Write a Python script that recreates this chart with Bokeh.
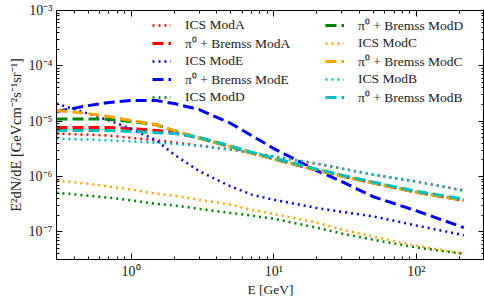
from bokeh.plotting import figure
from bokeh.models import (LogAxis, Legend, LegendItem, CustomJSTickFormatter,
                          Range1d, LogTicker)
from bokeh.embed import file_html
from bokeh.resources import INLINE

# ---- data ----
energy = [0.3, 0.5, 0.7, 1, 1.5, 2, 3, 5, 7, 10, 20, 30, 50, 100, 215]

ics_modA = [6.0e-6, 5.7e-6, 5.5e-6, 5.0e-6, 4.5e-6, 4.1e-6, 3.6e-6, 3.06e-6, 2.7e-6, 2.3e-6, 1.71e-6, 1.39e-6, 1.08e-6, 8.1e-7, 5.6e-7]
pi_modA = [7.7e-6, 7.7e-6, 7.7e-6, 7.3e-6, 6.8e-6, 6.2e-6, 5.0e-6, 3.45e-6, 2.65e-6, 2.08e-6, 1.31e-6, 1.02e-6, 7.6e-7, 5.2e-7, 3.7e-7]
ics_modE = [2.08e-5, 1.37e-5, 1.03e-5, 7.3e-6, 4.5e-6, 2.5e-6, 1.25e-6, 6.6e-7, 4.7e-7, 3.8e-7, 2.7e-7, 2.3e-7, 1.9e-7, 1.3e-7, 8.7e-8]
pi_modE = [1.49e-5, 1.91e-5, 2.17e-5, 2.36e-5, 2.36e-5, 2.08e-5, 1.62e-5, 9.1e-6, 5.5e-6, 3.2e-6, 1.28e-6, 8.1e-7, 4.3e-7, 2.4e-7, 1.19e-7]
ics_modD = [5.1e-7, 4.5e-7, 4.15e-7, 3.7e-7, 3.2e-7, 3.0e-7, 2.6e-7, 2.2e-7, 1.96e-7, 1.73e-7, 1.19e-7, 9.3e-8, 7.2e-8, 5.2e-8, 4.0e-8]
pi_modD = [1.1e-5, 1.1e-5, 1.08e-5, 9.9e-6, 8.6e-6, 6.7e-6, 4.95e-6, 3.45e-6, 2.67e-6, 2.08e-6, 1.32e-6, 1.03e-6, 7.7e-7, 5.25e-7, 3.75e-7]
ics_modC = [8.4e-7, 7.4e-7, 6.6e-7, 5.8e-7, 4.9e-7, 4.5e-7, 3.8e-7, 3.1e-7, 2.5e-7, 2.1e-7, 1.47e-7, 1.1e-7, 8.2e-8, 5.6e-8, 4.0e-8]
pi_modC = [1.56e-5, 1.37e-5, 1.21e-5, 1.03e-5, 8.7e-6, 6.8e-6, 5.0e-6, 3.45e-6, 2.66e-6, 2.08e-6, 1.31e-6, 1.02e-6, 7.6e-7, 5.2e-7, 3.7e-7]
ics_modB = [4.8e-6, 4.65e-6, 4.5e-6, 4.3e-6, 4.1e-6, 3.9e-6, 3.6e-6, 3.06e-6, 2.7e-6, 2.3e-6, 1.71e-6, 1.39e-6, 1.08e-6, 8.1e-7, 5.5e-7]
pi_modB = [6.8e-6, 6.8e-6, 6.8e-6, 6.5e-6, 6.2e-6, 6.0e-6, 5.1e-6, 3.55e-6, 2.75e-6, 2.15e-6, 1.36e-6, 1.06e-6, 7.9e-7, 5.4e-7, 3.9e-7]

series = [
    ("ICS ModA", ics_modA, "#ff0000", "dot"),
    ("π⁰ + Bremss ModA", pi_modA, "#ff0000", "dash"),
    ("ICS ModE", ics_modE, "#0000ff", "dot"),
    ("π⁰ + Bremss ModE", pi_modE, "#0000ff", "dash"),
    ("ICS ModD", ics_modD, "#008000", "dot"),
    ("π⁰ + Bremss ModD", pi_modD, "#008000", "dash"),
    ("ICS ModC", ics_modC, "#ffa500", "dot"),
    ("π⁰ + Bremss ModC", pi_modC, "#ffa500", "dash"),
    ("ICS ModB", ics_modB, "#00bfbf", "dot"),
    ("π⁰ + Bremss ModB", pi_modB, "#00bfbf", "dash"),
]

FONT = "Liberation Serif"

p = figure(width=484, height=300, x_axis_type="log", y_axis_type="log",
           x_range=Range1d(0.3, 300), y_range=Range1d(10 ** -7.5, 1e-3),
           output_backend="svg", toolbar_location=None,
           min_border_left=56, min_border_right=0, min_border_top=10,
           min_border_bottom=41)
p.grid.visible = False
p.outline_line_color = "black"
p.outline_line_width = 1
p.background_fill_color = "white"

sup_js = """
const sup = {"-":"\u207b","0":"\u2070","1":"\u00b9","2":"\u00b2","3":"\u00b3","4":"\u2074","5":"\u2075","6":"\u2076","7":"\u2077","8":"\u2078","9":"\u2079"};
const e = Math.round(Math.log10(tick));
return "10" + String(e).split("").map(c => sup[c]).join("");
"""
blank_js = "return '';"


def style_axis(ax, labels=True):
    ax.ticker = LogTicker(num_minor_ticks=10)
    ax.major_tick_in = 6
    ax.major_tick_out = 0
    ax.minor_tick_in = 3
    ax.minor_tick_out = 0
    ax.axis_line_color = "black"
    ax.major_tick_line_color = "black"
    ax.minor_tick_line_color = "black"
    ax.major_label_text_font = FONT
    ax.major_label_text_font_size = "14px"
    ax.major_label_text_color = "#222222"
    ax.axis_label_text_font = FONT
    ax.axis_label_text_font_size = "13.5px"
    ax.axis_label_text_font_style = "normal"
    ax.axis_label_text_color = "#222222"
    if labels:
        ax.formatter = CustomJSTickFormatter(code=sup_js)
    else:
        ax.formatter = CustomJSTickFormatter(code=blank_js)
        ax.major_label_standoff = 0
        ax.axis_label_standoff = 0
        ax.major_label_text_font_size = "1px"


style_axis(p.xaxis[0])
style_axis(p.yaxis[0])
p.xaxis[0].axis_label = "E [GeV]"
p.xaxis[0].axis_label_standoff = 0
p.xaxis[0].major_label_standoff = 4
p.yaxis[0].axis_label = "E²dN/dE [GeVcm⁻²s⁻¹sr⁻¹]"
p.yaxis[0].axis_label_text_font_size = "14.5px"
p.yaxis[0].axis_label_standoff = 2
p.yaxis[0].major_label_standoff = 4

top_ax = LogAxis()
style_axis(top_ax, labels=False)
p.add_layout(top_ax, "above")
right_ax = LogAxis()
style_axis(right_ax, labels=False)
p.add_layout(right_ax, "right")

renderers = []
for name, vals, col, kind in series:
    if kind == "dot":
        r = p.line(energy, vals, line_color=col, line_width=2.5,
                   line_dash="2 4", line_cap="butt")
    else:
        r = p.line(energy, vals, line_color=col, line_width=3,
                   line_dash="11 5", line_cap="butt")
    renderers.append((name, r))


def make_legend(items, loc):
    return Legend(items=[LegendItem(label=n, renderers=[r]) for n, r in items],
                  location=loc, orientation="vertical", padding=0, margin=0,
                  spacing=0, glyph_width=19, glyph_height=18, label_height=18,
                  label_standoff=14, border_line_alpha=0,
                  background_fill_alpha=0, label_text_font=FONT,
                  label_text_font_size="13.5px", label_text_color="#222222")


p.add_layout(make_legend(renderers[:5], (96, 153)))
p.add_layout(make_legend(renderers[5:], (269, 153)))

open("out.html", "w").write(file_html(p, INLINE))
